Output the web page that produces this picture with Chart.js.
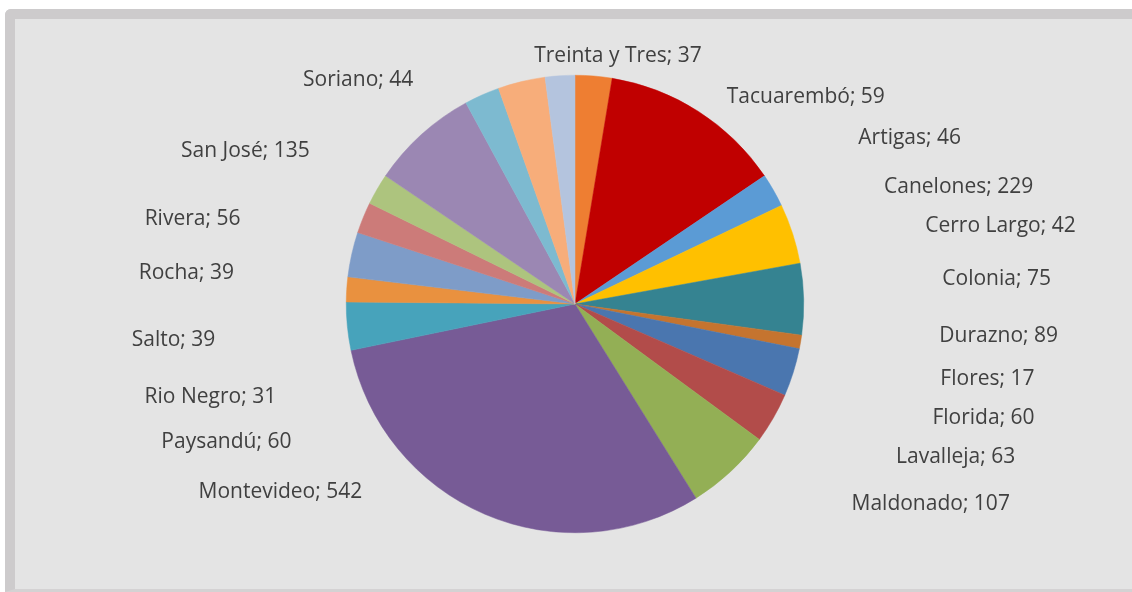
<!DOCTYPE html>
<html>
<head>
<meta charset="utf-8">
<script src="https://cdn.jsdelivr.net/npm/chart.js@4/dist/chart.umd.min.js"></script>
<style>
  html, body { margin: 0; padding: 0; background: #ffffff; width: 1132px; height: 592px; overflow: hidden; }
  #frame {
    position: absolute; left: 5px; top: 9px; width: 1117px; height: 570px;
    background: #e4e4e4;
    border-left: 10px solid #cdcbcc; border-top: 10px solid #cdcbcc; border-bottom: 3px solid #d4d2d3;
    border-top-left-radius: 6px;
  }
  #c { position: absolute; left: 0; top: 0; }
</style>
</head>
<body>
<div id="frame"></div>
<canvas id="c" width="1132" height="592"></canvas>
<script>
// ---- Data ----
const categories = ["Artigas", "Canelones", "Cerro Largo", "Colonia", "Durazno", "Flores", "Florida",
  "Lavalleja", "Maldonado", "Montevideo", "Paysandú", "Rio Negro", "Rivera", "Rocha", "Salto",
  "San José", "Soriano", "Tacuarembó", "Treinta y Tres"];
const values = [46, 229, 42, 75, 89, 17, 60, 63, 107, 542, 60, 31, 56, 39, 39, 135, 44, 59, 37];

// ---- Styles ----
const sliceColors = ["#EE7E32", "#C00000", "#5B9BD5", "#FFC000", "#358391", "#C5742F", "#4A76AF",
  "#B24C4A", "#93AF55", "#775B96", "#47A3BB", "#E9913F", "#7E9CC8", "#CC7B79", "#ADC47E",
  "#9B87B3", "#7DBAD0", "#F7AD7A", "#B4C4DE"];

// Data label placement (text centre, in units of the pie radius from the pie centre), as laid out in the source
const labelLayout = {
  "Treinta y Tres": [0.188, -1.092], "Tacuarembó": [1.009, -0.913], "Artigas": [1.463, -0.734],
  "Canelones": [1.677, -0.520], "Cerro Largo": [1.860, -0.349], "Colonia": [1.843, -0.118],
  "Durazno": [1.852, 0.135], "Flores": [1.803, 0.323], "Florida": [1.786, 0.493],
  "Lavalleja": [1.664, 0.664], "Maldonado": [1.555, 0.869], "Montevideo": [-1.288, 0.817],
  "Paysandú": [-1.524, 0.598], "Rio Negro": [-1.594, 0.402], "Salto": [-1.755, 0.153],
  "Rocha": [-1.699, -0.140], "Rivera": [-1.672, -0.380], "San José": [-1.441, -0.677],
  "Soriano": [-0.948, -0.987]
};

const labelPlugin = {
  id: 'excelLabels',
  afterDatasetsDraw(chart) {
    const meta = chart.getDatasetMeta(0);
    if (!meta.data.length) return;
    const arc = meta.data[0];
    const cx = arc.x, cy = arc.y, r = arc.outerRadius;
    const ctx = chart.ctx;
    const fs = 21;
    ctx.save();
    ctx.font = fs + 'px "Open Sans"';
    ctx.fillStyle = '#404040';
    ctx.textAlign = 'center';
    ctx.textBaseline = 'alphabetic';
    const ds = chart.data.datasets[0];
    chart.data.labels.forEach((name, i) => {
      const pos = labelLayout[name];
      if (!pos) return;
      const text = name + '; ' + ds.data[i];
      ctx.fillText(text, cx + pos[0] * r, cy + pos[1] * r + fs * 0.357);
    });
    ctx.restore();
  }
};

new Chart(document.getElementById('c'), {
  type: 'pie',
  data: {
    labels: categories,
    datasets: [{
      data: values,
      backgroundColor: sliceColors,
      borderColor: sliceColors,
      borderWidth: 0.5,
      hoverOffset: 0
    }]
  },
  options: {
    responsive: false,
    animation: false,
    devicePixelRatio: 1,
    layout: { padding: { left: 346, right: 328, top: 75, bottom: 59 } },
    plugins: {
      legend: { display: false },
      tooltip: { enabled: false }
    }
  },
  plugins: [labelPlugin]
});
</script>
</body>
</html>
